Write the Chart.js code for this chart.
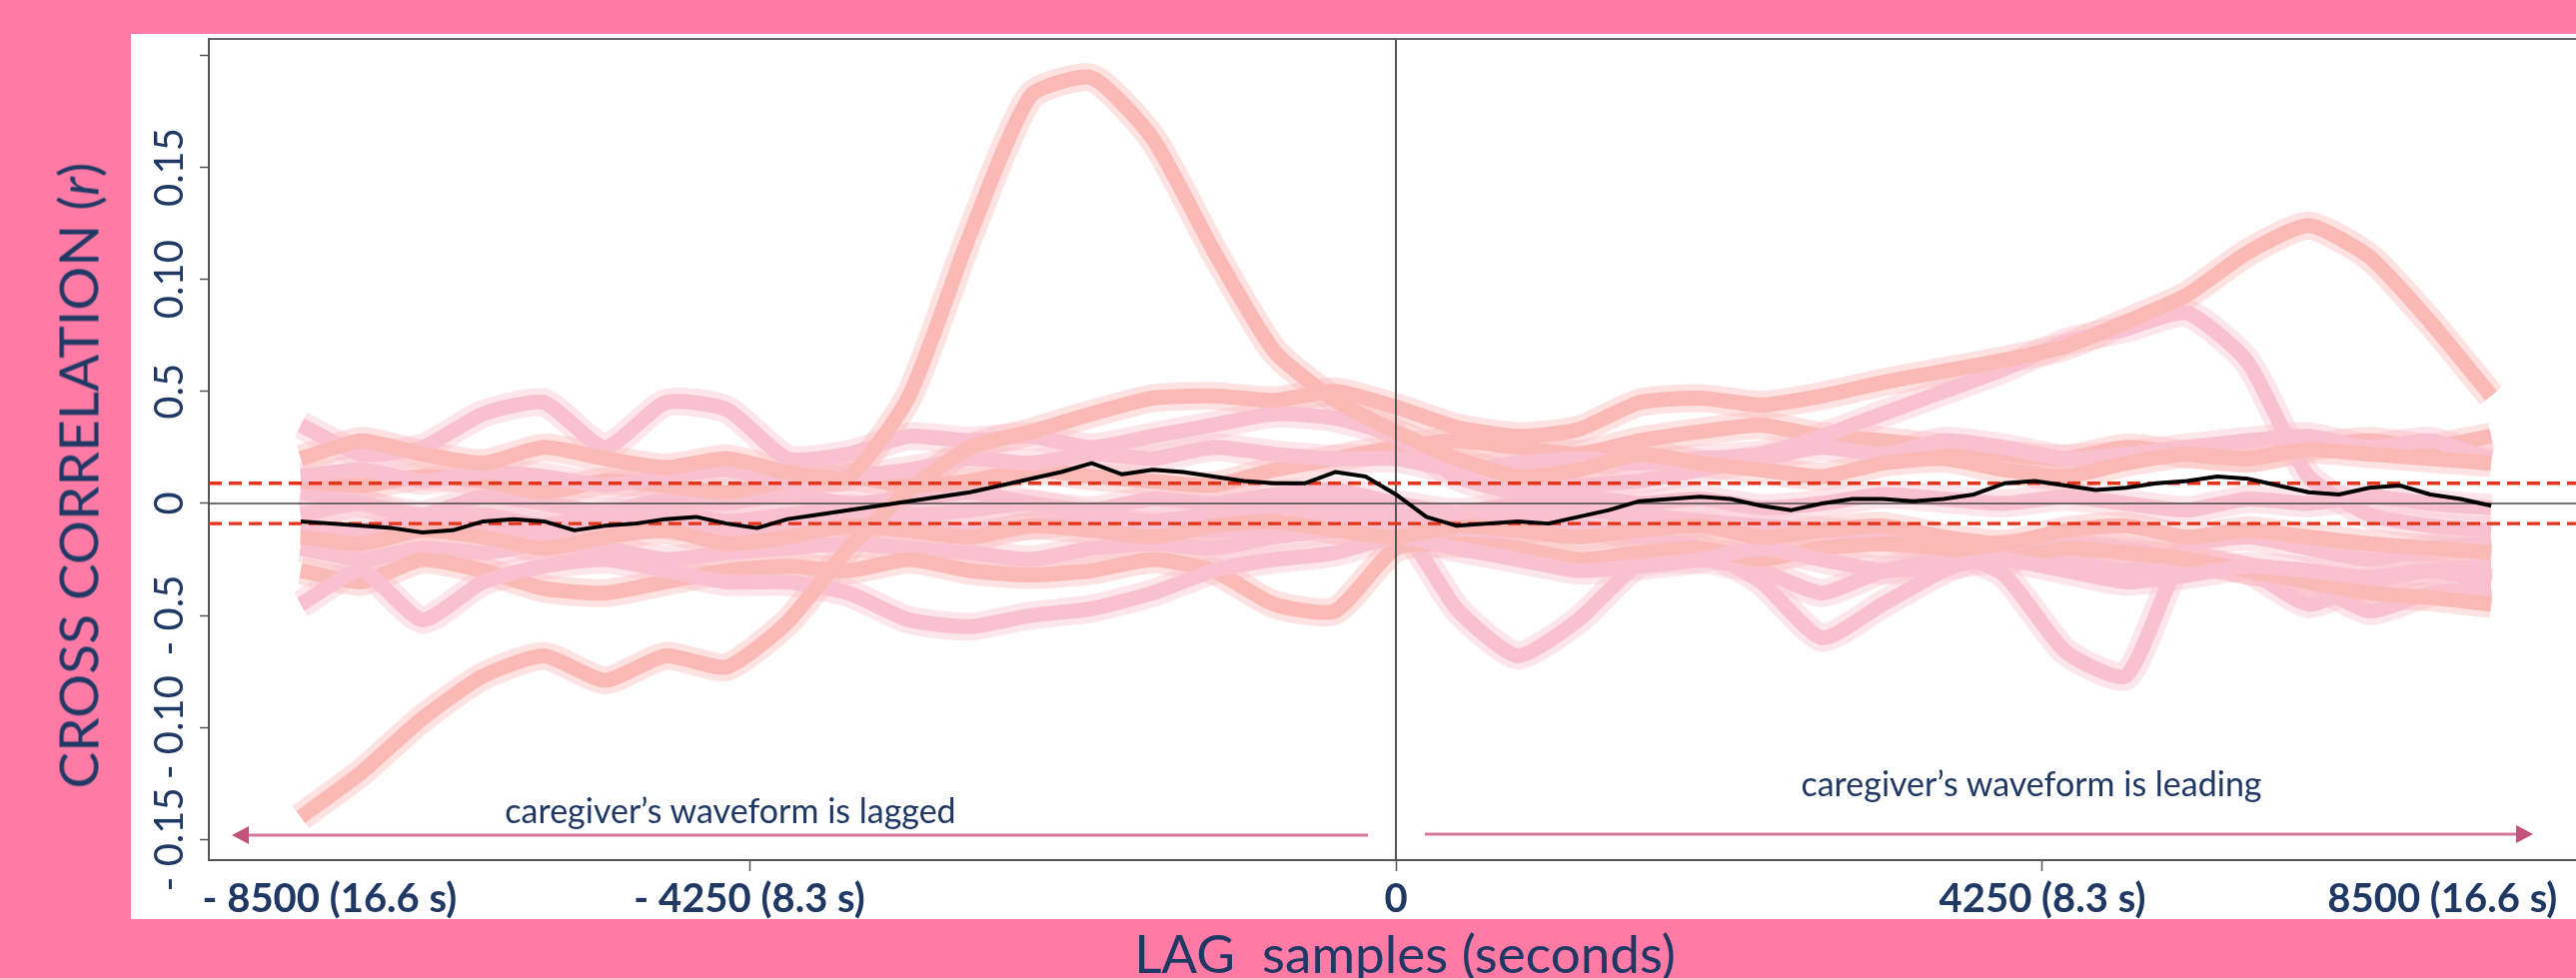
<!DOCTYPE html>
<html>
<head>
<meta charset="utf-8">
<script src="https://cdn.jsdelivr.net/npm/chart.js@4.4.1/dist/chart.umd.min.js"></script>
<style>
  html, body { margin: 0; padding: 0; }
  body {
    width: 2578px; height: 979px; overflow: hidden; position: relative;
    background: #ff7ba6; color: #1f3864;
    font-family: Lato, "Noto Sans", sans-serif;
  }
  #panel { position: absolute; left: 131px; top: 34px; width: 2447px; height: 886px; background: #fff; }
  #wrap { position: absolute; left: 0; top: 0; width: 2578px; height: 979px; }
  .ytitle {
    position: absolute; left: 78px; top: 476px; font-size: 55px; line-height: 1;
    white-space: nowrap; transform: translate(-50%, -50%) rotate(-90deg);
  }
  .xtitle {
    position: absolute; left: 1406px; top: 953px; font-size: 53px; line-height: 1;
    white-space: nowrap; transform: translate(-50%, -50%);
  }
  .note {
    position: absolute; font-size: 34px; line-height: 1; white-space: nowrap;
    transform: translate(-50%, -50%);
  }
</style>
</head>
<body>
<div id="panel"></div>
<div id="wrap"><canvas id="xcorr"></canvas></div>
<div class="ytitle">CROSS CORRELATION (<i>r</i>)</div>
<div class="xtitle">LAG&nbsp; samples (seconds)</div>
<div class="note" style="left:731px; top:811px;">caregiver’s waveform is lagged</div>
<div class="note" style="left:2033px; top:784px;">caregiver’s waveform is leading</div>

<script>
// --- axes ---
const X_MIN = -7804, X_MAX = 7758;
const Y_MIN = -0.1592, Y_MAX = 0.2073;
const xTickValues = [-7010, -4250, 0, 4250, 6880];
const xTickLabels = ['- 8500 (16.6 s)', '- 4250 (8.3 s)', '0', '4250 (8.3 s)', '8500 (16.6 s)'];
const yTickValues = [-0.15, -0.10, -0.05, 0, 0.05, 0.10, 0.15, 0.20];
const yTickLabels = ['- 0.15', '- 0.10', '- 0.5', '0', '0.5', '0.10', '0.15', ''];

// significance band (dashed red)
const ciLimit = 0.009;

// --- lag grid of the individual dyads (samples) ---
const lags = [-7200, -6800, -6400, -6000, -5600, -5200, -4800, -4400, -4000, -3600, -3200, -2800,
  -2400, -2000, -1600, -1200, -800, -400, 0, 400, 800, 1200, 1600, 2000, 2400, 2800, 3200, 3600,
  4000, 4400, 4800, 5200, 5600, 6000, 6400, 6800, 7200];

// individual dyads (r)
const peakLeft = [0.020, 0.028, 0.022, 0.018, 0.025, 0.020, 0.016, 0.020, 0.014, 0.012, 0.048, 0.120,
  0.182, 0.190, 0.163, 0.113, 0.068, 0.046, 0.032, 0.020, 0.012, 0.015, 0.022, 0.018, 0.015, 0.012, 0.018,
  0.020, 0.015, 0.012, 0.018, 0.022, 0.020, 0.024, 0.022, 0.020, 0.018];
const riseLong = [-0.140, -0.120, -0.096, -0.077, -0.068, -0.079, -0.068, -0.073, -0.053, -0.020, 0.006, 0.025,
  0.032, 0.040, 0.047, 0.048, 0.046, 0.050, 0.043, 0.034, 0.030, 0.033, 0.045, 0.047, 0.044, 0.048, 0.054,
  0.059, 0.064, 0.070, 0.081, 0.093, 0.112, 0.124, 0.110, 0.081, 0.048];
const humpRight = [0.012, 0.015, 0.010, 0.014, 0.012, 0.008, 0.012, 0.015, 0.010, 0.012, 0.015, 0.020,
  0.018, 0.022, 0.020, 0.025, 0.022, 0.020, 0.020, 0.015, 0.018, 0.020, 0.018, 0.020, 0.022, 0.030, 0.040,
  0.050, 0.060, 0.072, 0.078, 0.085, 0.063, 0.012, -0.005, -0.010, -0.012];
const hillsLeft = [0.035, 0.022, 0.025, 0.040, 0.045, 0.025, 0.045, 0.042, 0.020, 0.022, 0.030, 0.028,
  0.030, 0.025, 0.030, 0.035, 0.040, 0.038, 0.030, 0.012, 0.005, 0.008, 0.010, 0.015, 0.020, 0.025, 0.022,
  0.028, 0.025, 0.020, 0.022, 0.025, 0.028, 0.030, 0.025, 0.028, 0.020];
const upperRight = [0.010, 0.008, 0.012, 0.010, 0.005, 0.010, 0.008, 0.005, 0.010, 0.012, 0.008, 0.010,
  0.015, 0.012, 0.010, 0.008, 0.015, 0.020, 0.025, 0.028, 0.025, 0.022, 0.028, 0.032, 0.035, 0.030, 0.028,
  0.025, 0.022, 0.020, 0.025, 0.022, 0.020, 0.025, 0.028, 0.025, 0.030];
const midPink = [0.005, 0.000, -0.005, 0.003, 0.000, -0.004, 0.002, 0.000, 0.004, 0.000, 0.002, 0.005,
  0.000, -0.003, 0.002, 0.000, 0.004, 0.006, 0.000, -0.004, 0.000, 0.003, 0.000, 0.002, -0.002, 0.000, 0.004,
  0.002, 0.000, 0.003, 0.000, -0.003, 0.002, 0.000, 0.003, 0.000, -0.002];
const midSalmon = [-0.015, -0.018, -0.012, -0.015, -0.020, -0.015, -0.012, -0.018, -0.015, -0.010, -0.012, -0.015,
  -0.010, -0.012, -0.015, -0.010, -0.008, -0.012, -0.015, -0.010, -0.012, -0.015, -0.012, -0.010, -0.015, -0.012,
  -0.010, -0.015, -0.018, -0.012, -0.010, -0.015, -0.012, -0.015, -0.018, -0.020, -0.022];
const lowLeft = [-0.045, -0.030, -0.052, -0.035, -0.028, -0.025, -0.030, -0.035, -0.035, -0.040, -0.052, -0.055,
  -0.050, -0.047, -0.040, -0.030, -0.025, -0.022, -0.015, -0.020, -0.025, -0.030, -0.028, -0.025, -0.020, -0.025,
  -0.030, -0.028, -0.025, -0.030, -0.035, -0.032, -0.028, -0.030, -0.033, -0.030, -0.035];
const dipLeft = [-0.030, -0.035, -0.025, -0.030, -0.038, -0.040, -0.035, -0.030, -0.028, -0.030, -0.025, -0.030,
  -0.032, -0.030, -0.025, -0.030, -0.045, -0.048, -0.020, -0.018, -0.020, -0.025, -0.022, -0.020, -0.025, -0.020,
  -0.018, -0.020, -0.025, -0.020, -0.022, -0.025, -0.030, -0.035, -0.040, -0.042, -0.045];
const dipAfterZero = [-0.020, -0.025, -0.020, -0.022, -0.018, -0.020, -0.025, -0.022, -0.020, -0.018, -0.020, -0.022,
  -0.025, -0.020, -0.018, -0.020, -0.015, -0.012, -0.008, -0.047, -0.068, -0.052, -0.027, -0.025, -0.030, -0.040,
  -0.030, -0.025, -0.020, -0.025, -0.030, -0.025, -0.030, -0.045, -0.035, -0.030, -0.028];
const dipMidRight = [-0.010, -0.012, -0.008, -0.010, -0.012, -0.008, -0.010, -0.012, -0.010, -0.008, -0.010, -0.012,
  -0.010, -0.008, -0.010, -0.012, -0.010, -0.005, -0.010, -0.015, -0.012, -0.010, -0.015, -0.020, -0.035, -0.060,
  -0.045, -0.030, -0.020, -0.018, -0.020, -0.025, -0.030, -0.035, -0.048, -0.040, -0.038];
const deepDipRight = [-0.005, 0.000, -0.008, -0.005, -0.010, -0.005, -0.003, -0.008, -0.005, -0.002, -0.005, -0.003,
  0.000, -0.005, -0.008, -0.005, -0.002, 0.000, -0.005, -0.008, -0.005, -0.003, -0.005, -0.008, -0.010, -0.012,
  -0.015, -0.020, -0.032, -0.066, -0.077, -0.020, -0.015, -0.020, -0.025, -0.020, -0.018];

// --- grand average (black) ---
const meanLags = [-7200, -7000, -6800, -6600, -6400, -6200, -6000, -5800, -5600, -5400, -5200, -5000,
  -4800, -4600, -4400, -4200, -4000, -3800, -3600, -3400, -3200, -3000, -2800, -2600, -2400, -2200, -2000,
  -1800, -1600, -1400, -1200, -1000, -800, -600, -400, -200, 0, 200, 400, 600, 800, 1000, 1200, 1400, 1600,
  1800, 2000, 2200, 2400, 2600, 2800, 3000, 3200, 3400, 3600, 3800, 4000, 4200, 4400, 4600, 4800, 5000,
  5200, 5400, 5600, 5800, 6000, 6200, 6400, 6600, 6800, 7000, 7200];
const meanR = [-0.008, -0.009, -0.010, -0.011, -0.013, -0.012, -0.008, -0.007, -0.008, -0.012, -0.010, -0.009,
  -0.007, -0.006, -0.009, -0.011, -0.007, -0.005, -0.003, -0.001, 0.001, 0.003, 0.005, 0.008, 0.011, 0.014, 0.018,
  0.013, 0.015, 0.014, 0.012, 0.010, 0.009, 0.009, 0.014, 0.012, 0.004, -0.006, -0.010, -0.009, -0.008, -0.009,
  -0.006, -0.003, 0.001, 0.002, 0.003, 0.002, -0.001, -0.003, 0.000, 0.002, 0.002, 0.001, 0.002, 0.004, 0.009,
  0.010, 0.008, 0.006, 0.007, 0.009, 0.010, 0.012, 0.011, 0.008, 0.005, 0.004, 0.007, 0.008, 0.004, 0.002, -0.001];

// direction arrows: [from lag, to lag, r]
const arrowLagged = [-184, -7653, -0.148];
const arrowLeading = [190, 7476, -0.1476];

const NAVY = '#1f3864';
const SALMON = '#fbb9b5', PINK = '#f9c1cf';
const SALMON_SOFT = 'rgba(250,179,176,0.38)', PINK_SOFT = 'rgba(249,188,203,0.38)';
const RED = '#e4341c';

const pinkSeries = [
  [peakLeft, 'salmon'], [riseLong, 'salmon'], [humpRight, 'pink'], [hillsLeft, 'pink'],
  [upperRight, 'salmon'], [midPink, 'pink'], [midSalmon, 'salmon'], [lowLeft, 'pink'],
  [dipLeft, 'salmon'], [dipAfterZero, 'pink'], [dipMidRight, 'pink'], [deepDipRight, 'pink']
];

const pts = (xs, ys) => xs.map((x, i) => ({ x, y: ys[i] }));

const datasets = [];
datasets.push({ data: pts(meanLags, meanR), borderColor: '#000', borderWidth: 4, order: 0 });
datasets.push({ data: [{ x: X_MIN, y: ciLimit }, { x: X_MAX, y: ciLimit }], borderColor: RED, borderWidth: 3.3, borderDash: [13, 7], order: 1 });
datasets.push({ data: [{ x: X_MIN, y: -ciLimit }, { x: X_MAX, y: -ciLimit }], borderColor: RED, borderWidth: 3.3, borderDash: [13, 7], order: 1 });
datasets.push({ data: [{ x: X_MIN, y: 0 }, { x: X_MAX, y: 0 }], borderColor: '#444', borderWidth: 1.5, order: 2 });
datasets.push({ data: [{ x: 0, y: Y_MIN }, { x: 0, y: Y_MAX }], borderColor: '#555', borderWidth: 2, order: 2 });
pinkSeries.forEach(([vals, tone]) => {
  datasets.push({ data: pts(lags, vals), borderColor: tone === 'salmon' ? SALMON : PINK, borderWidth: 15, tension: 0.2, order: 3 });
  datasets.push({ data: pts(lags, vals), borderColor: tone === 'salmon' ? SALMON_SOFT : PINK_SOFT, borderWidth: 28, tension: 0.2, order: 4 });
});

const arrowPlugin = {
  id: 'arrows',
  afterDatasetsDraw(chart) {
    const { ctx, scales: { x, y } } = chart;
    [arrowLagged, arrowLeading].forEach(([a, b, r]) => {
      const x0 = x.getPixelForValue(a), x1 = x.getPixelForValue(b), py = y.getPixelForValue(r);
      const dir = Math.sign(x1 - x0);
      ctx.save();
      ctx.strokeStyle = '#d3789a';
      ctx.lineWidth = 3;
      ctx.beginPath();
      ctx.moveTo(x0, py);
      ctx.lineTo(x1 - dir * 14, py);
      ctx.stroke();
      ctx.fillStyle = '#c2527a';
      ctx.beginPath();
      ctx.moveTo(x1, py);
      ctx.lineTo(x1 - dir * 17, py - 9);
      ctx.lineTo(x1 - dir * 17, py + 9);
      ctx.closePath();
      ctx.fill();
      ctx.restore();
    });
  }
};

new Chart(document.getElementById('xcorr'), {
  type: 'line',
  data: { datasets },
  options: {
    responsive: true,
    maintainAspectRatio: false,
    animation: false,
    events: [],
    layout: { padding: { top: 39, left: 0, right: 0, bottom: 0 } },
    elements: { point: { radius: 0 }, line: { borderJoinStyle: 'round', borderCapStyle: 'butt', fill: false } },
    plugins: { legend: { display: false }, tooltip: { enabled: false } },
    scales: {
      x: {
        type: 'linear', min: X_MIN, max: X_MAX,
        afterBuildTicks: s => { s.ticks = xTickValues.map(v => ({ value: v })); },
        afterFit: s => { s.height = 118; },
        ticks: {
          autoSkip: false, maxRotation: 0, minRotation: 0, padding: 4, color: NAVY,
          font: { family: 'Lato', size: 40, weight: 'bold' },
          callback: (v, i) => xTickLabels[i]
        },
        grid: {
          drawOnChartArea: false, tickLength: 11, tickWidth: 1.5,
          tickColor: c => (c.tick && Math.abs(c.tick.value) > 5000) ? 'rgba(0,0,0,0)' : '#555'
        },
        border: { display: true, color: '#555', width: 2 }
      },
      xTop: {
        type: 'linear', position: 'top', display: true, min: X_MIN, max: X_MAX,
        afterFit: s => { s.height = 0; },
        ticks: { display: false },
        grid: { display: false, drawTicks: false },
        border: { display: true, color: '#666', width: 2 }
      },
      y: {
        type: 'linear', min: Y_MIN, max: Y_MAX,
        afterBuildTicks: s => { s.ticks = yTickValues.map(v => ({ value: v })); },
        afterFit: s => { s.width = 209; },
        ticks: {
          minRotation: 90, maxRotation: 90, crossAlign: 'center', padding: -22, color: NAVY,
          font: { family: 'Lato', size: 40 },
          callback: (v, i) => yTickLabels[i]
        },
        grid: { drawOnChartArea: false, tickLength: 9, tickWidth: 1.5, tickColor: '#555' },
        border: { color: '#555', width: 2 }
      }
    }
  },
  plugins: [arrowPlugin]
});
</script>
</body>
</html>
